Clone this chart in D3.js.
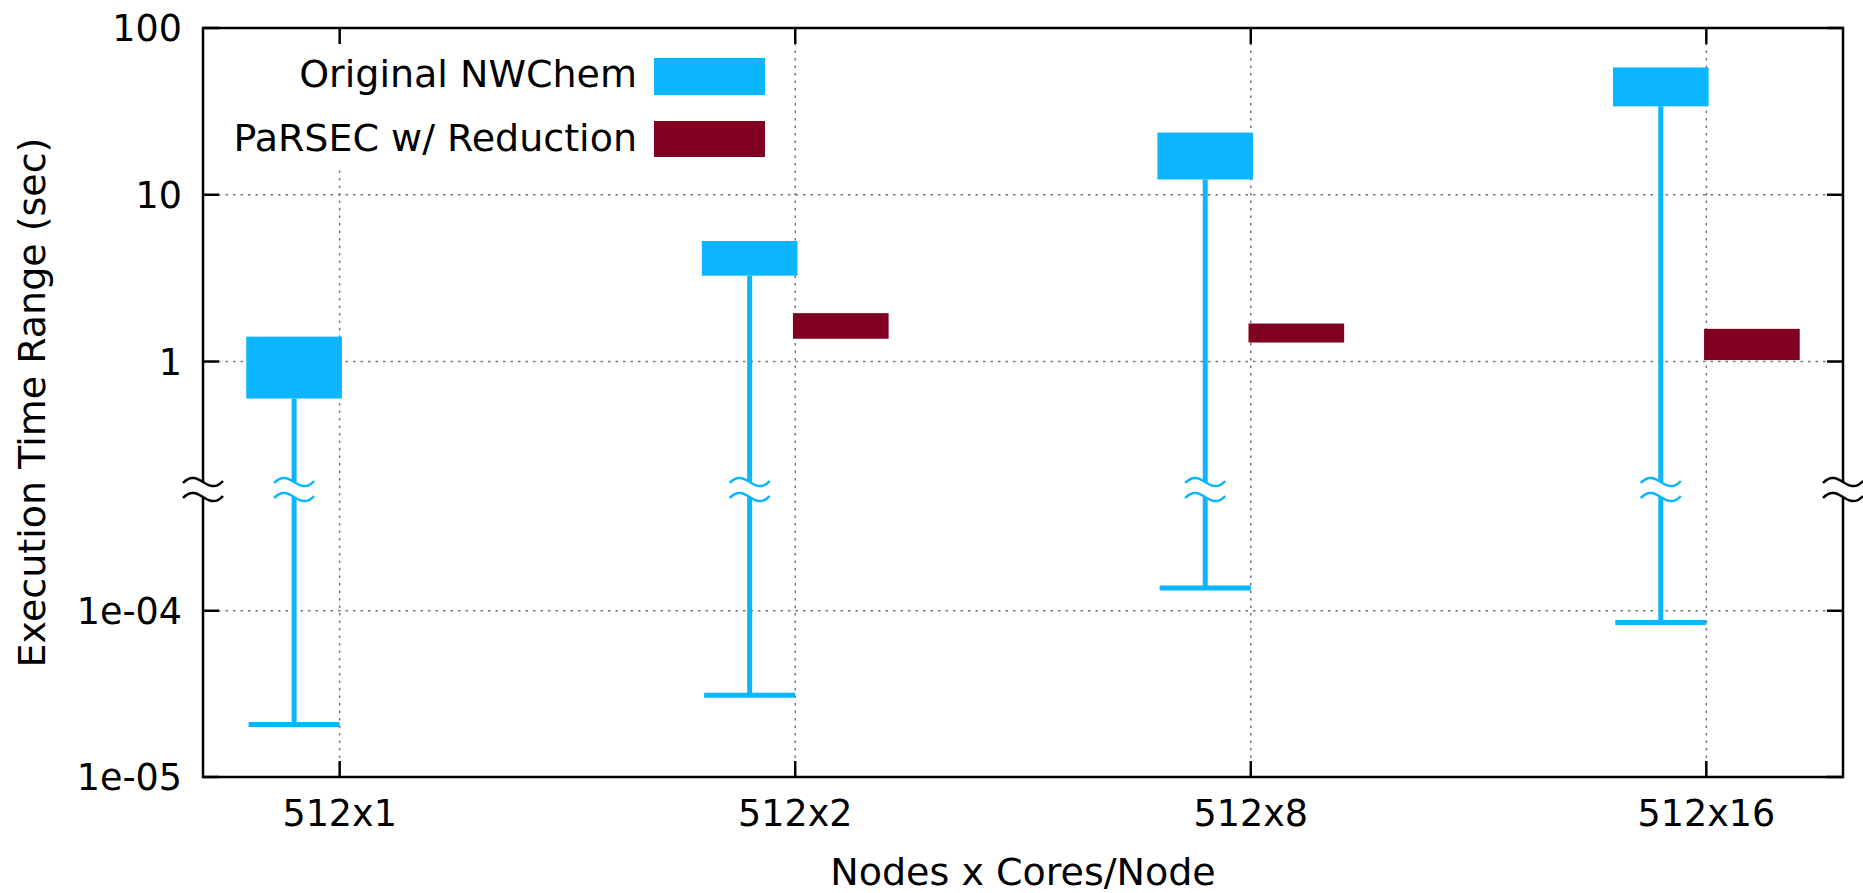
<!DOCTYPE html>
<html>
<head>
<meta charset="utf-8">
<script src="https://cdn.jsdelivr.net/npm/d3@7"></script>
<style>
  html, body { margin: 0; padding: 0; background: #fff; }
  svg { display: block; font-family: "DejaVu Sans", sans-serif; }
</style>
</head>
<body>
<svg id="chart" width="1863" height="893"></svg>
<script>
// ---------- data ----------
const categories = ["512x1", "512x2", "512x8", "512x16"];
// Original NWChem: whisker low, box low, box high
const nwLow     = [2.07e-5, 3.1e-5, 1.37e-4, 8.5e-5];
const nwBoxLow  = [0.60, 3.27, 12.35, 33.9];
const nwBoxHigh = [1.41, 5.28, 23.6, 58];
// PaRSEC w/ Reduction: box low, box high (none for 512x1)
const prBoxLow  = [null, 1.37, 1.30, 1.02];
const prBoxHigh = [null, 1.95, 1.69, 1.57];
const yTickValues = [1e-5, 1e-4, 1, 10, 100];
const yTickLabels = ["1e-05", "1e-04", "1", "10", "100"];
const seriesNames = ["Original NWChem", "PaRSEC w/ Reduction"];
const seriesColors = ["#0cb5ff", "#800022"];
// axis break (values between these are collapsed)
const breakLow = 5.4e-4, breakHigh = 0.172;

// ---------- layout ----------
const L = 203, R = 1843, T = 28, B = 777;
const svg = d3.select("#chart");

const x = d3.scaleLinear().domain([-0.3, 3.3]).range([L, R]);
const yBreakPx = 489;
const y = d3.scaleLog()
  .domain([1e-5, breakLow, breakHigh, 100])
  .range([B, yBreakPx, yBreakPx, T]);

const offset = 0.1, boxW = 0.21, capW = 0.2;
const gridColor = "#777";

// gridlines
const gridG = svg.append("g");
yTickValues.forEach(v => {
  if (v <= 1e-5 || v >= 100) return;
  gridG.append("line")
    .attr("x1", L).attr("x2", R).attr("y1", y(v)).attr("y2", y(v))
    .attr("stroke", gridColor).attr("stroke-width", 1.5)
    .attr("stroke-dasharray", "2.5,5");
});
categories.forEach((c, i) => {
  gridG.append("line")
    .attr("x1", x(i)).attr("x2", x(i)).attr("y1", T).attr("y2", B)
    .attr("stroke", gridColor).attr("stroke-width", 1.5)
    .attr("stroke-dasharray", "2.5,5");
});

// legend background (covers gridline)
svg.append("rect").attr("x", 285).attr("y", 40).attr("width", 495).attr("height", 128)
  .attr("fill", "#fff");

// break symbol helper
function breakMark(g, cx, color, sw) {
  const gap = [482, 497];
  g.append("rect").attr("x", cx - 8).attr("y", gap[0]).attr("width", 16)
    .attr("height", gap[1] - gap[0]).attr("fill", "#fff");
  gap.forEach(yy => {
    const p = `M${cx - 20},${yy + 1} C${cx - 12},${yy - 8} ${cx - 5},${yy - 3} ${cx},${yy}` +
              ` S${cx + 12},${yy + 8} ${cx + 20},${yy - 1}`;
    g.append("path").attr("d", p).attr("fill", "none")
      .attr("stroke", color).attr("stroke-width", sw);
  });
}

// NWChem candles
const nwG = svg.append("g");
categories.forEach((c, i) => {
  const cx = x(i - offset);
  nwG.append("line")
    .attr("x1", cx).attr("x2", cx)
    .attr("y1", y(nwLow[i])).attr("y2", y(nwBoxLow[i]))
    .attr("stroke", seriesColors[0]).attr("stroke-width", 5);
  nwG.append("line")
    .attr("x1", x(i - offset - capW / 2)).attr("x2", x(i - offset + capW / 2))
    .attr("y1", y(nwLow[i])).attr("y2", y(nwLow[i]))
    .attr("stroke", seriesColors[0]).attr("stroke-width", 5);
  nwG.append("rect")
    .attr("x", x(i - offset - boxW / 2)).attr("width", x(boxW) - x(0))
    .attr("y", y(nwBoxHigh[i])).attr("height", y(nwBoxLow[i]) - y(nwBoxHigh[i]))
    .attr("fill", seriesColors[0]);
  breakMark(nwG, cx, seriesColors[0], 2.5);
});

// PaRSEC boxes
const prG = svg.append("g");
categories.forEach((c, i) => {
  if (prBoxLow[i] == null) return;
  prG.append("rect")
    .attr("x", x(i + offset - boxW / 2)).attr("width", x(boxW) - x(0))
    .attr("y", y(prBoxHigh[i])).attr("height", y(prBoxLow[i]) - y(prBoxHigh[i]))
    .attr("fill", seriesColors[1]);
});

// border
const axG = svg.append("g");
axG.append("rect").attr("x", L).attr("y", T).attr("width", R - L).attr("height", B - T)
  .attr("fill", "none").attr("stroke", "#000").attr("stroke-width", 2.5);

// ticks (inward, mirrored)
const tl = 16;
yTickValues.forEach(v => {
  axG.append("line").attr("x1", L).attr("x2", L + tl).attr("y1", y(v)).attr("y2", y(v))
    .attr("stroke", "#000").attr("stroke-width", 2.5);
  axG.append("line").attr("x1", R).attr("x2", R - tl).attr("y1", y(v)).attr("y2", y(v))
    .attr("stroke", "#000").attr("stroke-width", 2.5);
});
categories.forEach((c, i) => {
  axG.append("line").attr("x1", x(i)).attr("x2", x(i)).attr("y1", B).attr("y2", B - tl)
    .attr("stroke", "#000").attr("stroke-width", 2.5);
  axG.append("line").attr("x1", x(i)).attr("x2", x(i)).attr("y1", T).attr("y2", T + tl)
    .attr("stroke", "#000").attr("stroke-width", 2.5);
});

// axis breaks on the frame
breakMark(axG, L, "#000", 2.5);
breakMark(axG, R, "#000", 2.5);

// tick labels
yTickValues.forEach((v, k) => {
  axG.append("text").attr("x", 182).attr("y", y(v) + 13)
    .attr("text-anchor", "end").attr("font-size", 36.5).attr("fill", "#000")
    .text(yTickLabels[k]);
});
categories.forEach((c, i) => {
  axG.append("text").attr("x", x(i)).attr("y", 826)
    .attr("text-anchor", "middle").attr("font-size", 36.5).attr("fill", "#000")
    .text(c);
});

// axis titles
svg.append("text").attr("x", (L + R) / 2).attr("y", 885)
  .attr("text-anchor", "middle").attr("font-size", 38).text("Nodes x Cores/Node");
svg.append("text").attr("transform", `translate(45,${(T + B) / 2}) rotate(-90)`)
  .attr("text-anchor", "middle").attr("font-size", 38).text("Execution Time Range (sec)");

// legend
const legY = [[58, 95, 87], [121, 157, 151]];
seriesNames.forEach((n, k) => {
  svg.append("text").attr("x", 637).attr("y", legY[k][2])
    .attr("text-anchor", "end").attr("font-size", 38).text(n);
  svg.append("rect").attr("x", 654).attr("y", legY[k][0]).attr("width", 111)
    .attr("height", legY[k][1] - legY[k][0]).attr("fill", seriesColors[k]);
});
</script>
</body>
</html>
